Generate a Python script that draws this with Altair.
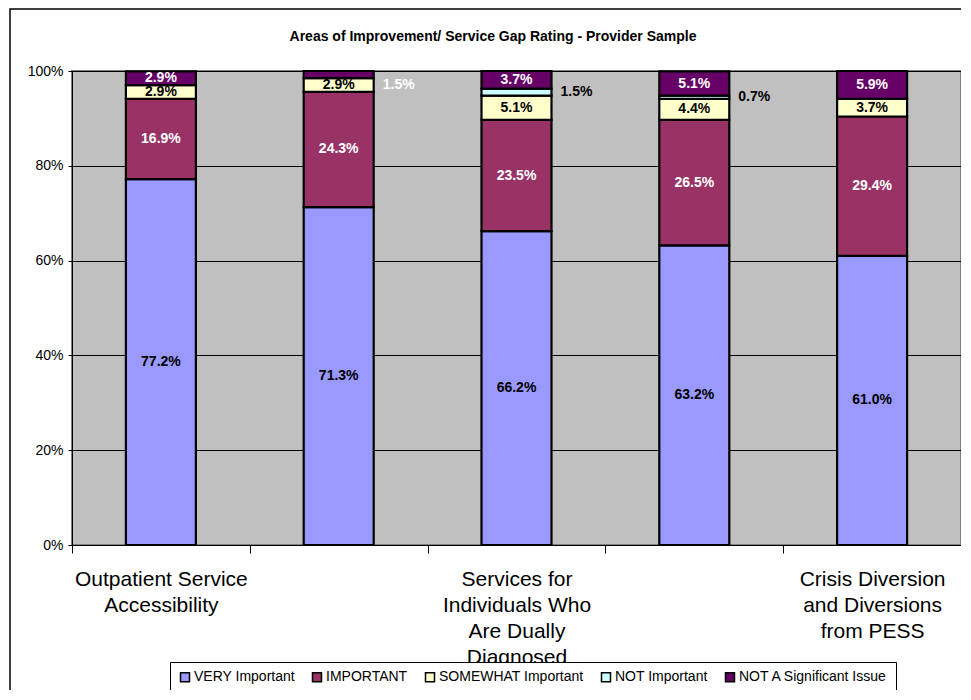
import altair as alt
import pandas as pd

categories = [
    "Outpatient Service Accessibility",
    "Area 2 (label not shown)",
    "Services for Individuals Who Are Dually Diagnosed",
    "Area 4 (label not shown)",
    "Crisis Diversion and Diversions from PESS",
]
label_lines = [
    ["Outpatient Service", "Accessibility"],
    [],
    ["Services for", "Individuals Who", "Are Dually", "Diagnosed"],
    [],
    ["Crisis Diversion", "and Diversions", "from PESS"],
]
series = ["VERY Important", "IMPORTANT", "SOMEWHAT Important", "NOT Important", "NOT A Significant Issue"]
very = [77.2, 71.3, 66.2, 63.2, 61.0]
important = [16.9, 24.3, 23.5, 26.5, 29.4]
somewhat = [2.9, 2.9, 5.1, 4.4, 3.7]
not_imp = [0.0, 0.0, 1.5, 0.7, 0.0]
not_sig = [2.9, 1.5, 3.7, 5.1, 5.9]
colors = ["#9999FF", "#993366", "#FFFFCC", "#CCFFFF", "#660066"]
label_colors = ["black", "white", "black", "black", "white"]
y_ticks = [0, 20, 40, 60, 80, 100]
title_text = "Areas of Improvement/ Service Gap Rating - Provider Sample"

rows = []
for si, (s, vals) in enumerate(zip(series, [very, important, somewhat, not_imp, not_sig])):
    for ci, c in enumerate(categories):
        rows.append({"cat": c, "series": s, "order": si, "value": vals[ci], "tcolor": label_colors[si]})
df = pd.DataFrame(rows)

# x-axis label expression (multi-line, only some categories labelled)
parts = []
for c, lines in zip(categories, label_lines):
    if lines:
        arr = "[" + ",".join("'" + l + "'" for l in lines) + "]"
        parts.append(f"datum.value == '{c}' ? {arr}")
label_expr = " : ".join(parts) + " : ''"

FONT = "Liberation Sans"

base = alt.Chart(df).transform_filter("datum.value > 0").transform_stack(
    stack="value", groupby=["cat"], as_=["y0", "y1"], sort=[alt.SortField("order", "ascending")]
).transform_calculate(
    mid="(datum.y0 + datum.y1) / 2",
    lbl="format(datum.value, '.1f') + '%'",
)

xenc = alt.X(
    "cat:N",
    sort=categories,
    scale=alt.Scale(paddingInner=0, paddingOuter=0),
    axis=alt.Axis(
        title=None, labelAngle=0, labelFontSize=21, labelFont=FONT, labelColor="black",
        labelLineHeight=26, labelExpr=label_expr, tickBand="extent", tickSize=8,
        tickColor="black", domainColor="black", domainWidth=1, labelPadding=15,
        labelOverlap=False, labelLimit=400, labelBaseline="top", grid=False,
    ),
)

bars = base.mark_bar(size=70, stroke="black", strokeWidth=2.2).encode(
    x=xenc,
    y=alt.Y(
        "y0:Q",
        scale=alt.Scale(domain=[0, 100], nice=False),
        axis=alt.Axis(
            title=None, values=y_ticks, labelExpr="datum.value + '%'", labelFontSize=14,
            labelFont=FONT, labelColor="black", tickSize=4, tickColor="black",
            labelPadding=5, domainColor="black", grid=True, gridColor="black",
            gridWidth=1, gridOpacity=1,
        ),
    ),
    y2="y1:Q",
    color=alt.Color(
        "series:N",
        scale=alt.Scale(domain=series, range=colors),
        legend=alt.Legend(
            title=None, orient="none", legendX=98, legendY=591, direction="horizontal",
            fillColor="white", strokeColor="black", padding=8, symbolType="square",
            symbolSize=81, symbolStrokeColor="black", symbolStrokeWidth=1.5,
            labelFontSize=14, labelFont=FONT, labelColor="black", columnPadding=14,
            labelOffset=2, symbolOpacity=1,
        ),
    ),
    order=alt.Order("order:Q"),
)

inside = base.transform_filter("datum.value >= 2").mark_text(
    font=FONT, fontSize=14, fontWeight="bold", baseline="middle"
).encode(
    x=alt.X("cat:N", sort=categories),
    y=alt.Y("mid:Q"),
    text="lbl:N",
    color=alt.Color("tcolor:N", scale=None),
)

outside = base.transform_filter("datum.value > 0 && datum.value < 2").transform_calculate(
    ly="min(datum.mid, 97)"
).mark_text(
    font=FONT, fontSize=14, fontWeight="bold", baseline="middle", align="left", dx=44
).encode(
    x=alt.X("cat:N", sort=categories),
    y=alt.Y("ly:Q"),
    text="lbl:N",
    color=alt.Color("tcolor:N", scale=None),
)

one = pd.DataFrame({"a": [0]})
border = alt.Chart(one).mark_rect(
    fillOpacity=0, stroke="black", strokeWidth=1.5
).encode(
    x=alt.value(-62), x2=alt.value(920), y=alt.value(-62), y2=alt.value(660)
)

title = alt.Chart(one).mark_text(
    text=title_text, font=FONT, fontSize=14, fontWeight="bold", color="black",
    align="center", baseline="alphabetic",
).encode(x=alt.value(421), y=alt.value(-30))

chart = alt.layer(border, bars, inside, outside, title).properties(
    width=889,
    height=474,
    autosize=alt.AutoSizeParams(type="none"),
    padding={"left": 64, "top": 63, "right": 0, "bottom": 145},
    background="white",
).configure_view(fill="#C0C0C0", stroke="#808080", strokeWidth=2)

chart.save("out.html", embed_options={"renderer": "svg", "actions": False})
